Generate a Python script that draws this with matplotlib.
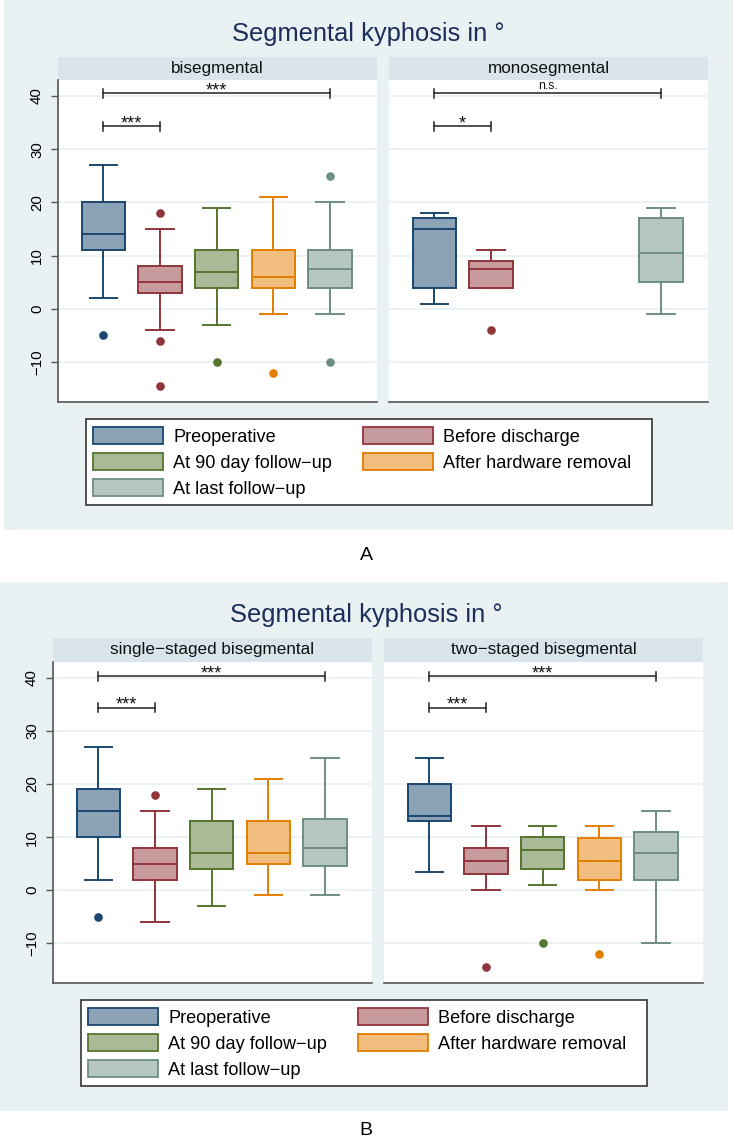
import matplotlib
matplotlib.use("Agg")
import matplotlib.pyplot as plt
from matplotlib.patches import Rectangle, Patch

plt.rcParams["font.family"] = ["Liberation Sans", "DejaVu Sans"]

W, H = 733, 1142

groups = ["Preoperative", "Before discharge", "At 90 day follow\u2212up",
          "After hardware removal", "At last follow\u2212up"]
edges = ["#1a476f", "#90353b", "#55752f", "#e37e00", "#6e8e84"]
fills = ["#8ca3b7", "#c79a9d", "#aaba97", "#f1be7f", "#b6c6c1"]

# A: bisegmental
bi_med = [14, 5, 7, 6, 7.5]
bi_q1 = [11, 3, 4, 4, 4]
bi_q3 = [20, 8, 11, 11, 11]
bi_lo = [2, -4, -3, -1, -1]
bi_hi = [27, 15, 19, 21, 20]
bi_out = [[-5], [18, -6, -14.5], [-10], [-12], [25, -10]]

# A: monosegmental (no 90 day / hardware removal data)
mono_med = [15, 7.5, None, None, 10.5]
mono_q1 = [4, 4, None, None, 5]
mono_q3 = [17, 9, None, None, 17]
mono_lo = [1, 4, None, None, -1]
mono_hi = [18, 11, None, None, 19]
mono_out = [[], [-4], [], [], []]

# B: single-staged bisegmental
ss_med = [15, 5, 7, 7, 8]
ss_q1 = [10, 2, 4, 5, 4.5]
ss_q3 = [19, 8, 13, 13, 13.5]
ss_lo = [2, -6, -3, -1, -1]
ss_hi = [27, 15, 19, 21, 25]
ss_out = [[-5], [18], [], [], []]

# B: two-staged bisegmental
ts_med = [14, 5.5, 7.5, 5.5, 7]
ts_q1 = [13, 3, 4, 2, 2]
ts_q3 = [20, 8, 10, 9.8, 11]
ts_lo = [3.5, 0, 1, 0, -10]
ts_hi = [25, 12, 12, 12, 15]
ts_out = [[], [-14.5], [-10], [-12], []]

yticks = [-10, 0, 10, 20, 30, 40]
sig_long = [40.5, 40.5, 40.3, 40.3]
sig_short = [34.3, 34.3, 34.4, 34.4]

BG = "#e9f1f3"
STRIP = "#d9e5eb"
TITLE = "#1c2d5a"


def rect(x0, y0, x1, y1):
    return [x0 / W, 1 - y1 / H, (x1 - x0) / W, (y1 - y0) / H]


def draw_box(ax, med, q1, q3, lo, hi, out, first):
    stats, pos, idx = [], [], []
    for i in range(5):
        if med[i] is None:
            continue
        stats.append(dict(med=med[i], q1=q1[i], q3=q3[i],
                          whislo=lo[i], whishi=hi[i], fliers=out[i]))
        pos.append(i + 1)
        idx.append(i)
    art = ax.bxp(stats, positions=pos, widths=0.76, capwidths=0.48,
                 patch_artist=True, manage_ticks=False)
    for k, i in enumerate(idx):
        art["boxes"][k].set(facecolor=fills[i], edgecolor=edges[i], linewidth=1.4)
        art["medians"][k].set(color=edges[i], linewidth=1.4)
        for ln in art["whiskers"][2 * k:2 * k + 2] + art["caps"][2 * k:2 * k + 2]:
            ln.set(color=edges[i], linewidth=1.4)
        art["fliers"][k].set(marker="o", markerfacecolor=edges[i],
                             markeredgecolor=edges[i], markersize=5.2)

    ax.set_xlim(0.2, 5.83)
    ax.set_ylim(-17.5, 43)
    ax.set_yticks(yticks)
    ax.set_xticks([])
    ax.set_axisbelow(True)
    ax.yaxis.grid(True, color=BG, linewidth=1.3)
    for s in ["top", "right"]:
        ax.spines[s].set_visible(False)
    ax.spines["bottom"].set(color="#555555", linewidth=1.2)
    if first:
        ax.spines["left"].set(color="#555555", linewidth=1.2)
        ax.tick_params(axis="y", direction="out", length=5, width=1,
                       color="#555555", labelsize=10.8, labelrotation=90, pad=5)
        for t in ax.get_yticklabels():
            t.set_va("center")
    else:
        ax.spines["left"].set_visible(False)
        ax.tick_params(axis="y", left=False, labelleft=False)


def bracket(ax, x0, x1, y, label):
    ax.plot([x0, x1], [y, y], color="#222222", lw=1.1)
    for x in (x0, x1):
        ax.plot([x, x], [y - 0.8, y + 0.8], color="#222222", lw=1.1)
    if "*" in label:
        # asterisks sit high in the em box, so anchor the baseline just under the line
        ax.text((x0 + x1) / 2, y - 0.4, label, ha="center", va="baseline",
                fontsize=13, color="#111111")
    else:
        ax.text((x0 + x1) / 2, y + 0.9, label, ha="center", va="baseline",
                fontsize=8.8, color="#111111")


def strip(x0, x1, y0, y1, label, base):
    sa = fig.add_axes(rect(x0, y0, x1, y1))
    sa.set_facecolor(STRIP)
    sa.set_xticks([])
    sa.set_yticks([])
    for s in sa.spines.values():
        s.set_visible(False)
    fig.text((x0 + x1) / 2 / W, 1 - base / H, label, ha="center",
             va="baseline", fontsize=12.3, color="#111111")


def legend(fx0, fy0, fx1, fy1, ax_x, ax_y):
    fig.patches.append(Rectangle((fx0 / W, 1 - fy1 / H), (fx1 - fx0) / W,
                                 (fy1 - fy0) / H, transform=fig.transFigure,
                                 facecolor="white", edgecolor="#333333",
                                 linewidth=1.2, zorder=1))
    order = [0, 2, 4, 1, 3]
    handles = [Patch(facecolor=fills[i], edgecolor=edges[i], linewidth=1.3)
               for i in order]
    labels = [groups[i] for i in order]
    leg = fig.legend(handles, labels, loc="upper left",
                     bbox_to_anchor=(ax_x / W, 1 - ax_y / H), ncol=2,
                     frameon=False, fontsize=13.1, borderpad=0, borderaxespad=0,
                     handlelength=3.85, handleheight=1.1, handletextpad=0.55,
                     labelspacing=0.39, columnspacing=1.7)
    leg.set_zorder(2)


fig = plt.figure(figsize=(W / 100, H / 100), dpi=100)

# background panels
fig.patches.append(Rectangle((4 / W, 1 - 530 / H), (733 - 4) / W, 530 / H,
                             transform=fig.transFigure, facecolor=BG,
                             edgecolor="none", zorder=-1))
fig.patches.append(Rectangle((0, 1 - 1111 / H), 728 / W, (1111 - 582) / H,
                             transform=fig.transFigure, facecolor=BG,
                             edgecolor="none", zorder=-1))

# ---- panel A ----
fig.text(368 / W, 1 - 40.7 / H, "Segmental kyphosis in \u00b0", ha="center",
         va="baseline", fontsize=18.4, color=TITLE)
strip(58, 377, 57, 80, "bisegmental", 72.5)
strip(389, 708, 57, 80, "monosegmental", 72.5)

axA1 = fig.add_axes(rect(58, 80, 377, 402))
draw_box(axA1, bi_med, bi_q1, bi_q3, bi_lo, bi_hi, bi_out, True)
bracket(axA1, 1, 5, sig_long[0], "***")
bracket(axA1, 1, 2, sig_short[0], "***")

axA2 = fig.add_axes(rect(389, 80, 708, 402))
draw_box(axA2, mono_med, mono_q1, mono_q3, mono_lo, mono_hi, mono_out, False)
bracket(axA2, 1, 5, sig_long[1], "n.s.")
bracket(axA2, 1, 2, sig_short[1], "*")

legend(86, 419, 652, 505, 93, 427)
fig.text(366 / W, 1 - 560 / H, "A", ha="center", va="baseline", fontsize=14)

# ---- panel B ----
fig.text(366 / W, 1 - 621.7 / H, "Segmental kyphosis in \u00b0", ha="center",
         va="baseline", fontsize=18.4, color=TITLE)
strip(53, 372, 638, 662, "single\u2212staged bisegmental", 654)
strip(384, 703, 638, 662, "two\u2212staged bisegmental", 654)

axB1 = fig.add_axes(rect(53, 662, 372, 983))
draw_box(axB1, ss_med, ss_q1, ss_q3, ss_lo, ss_hi, ss_out, True)
bracket(axB1, 1, 5, sig_long[2], "***")
bracket(axB1, 1, 2, sig_short[2], "***")

axB2 = fig.add_axes(rect(384, 662, 703, 983))
draw_box(axB2, ts_med, ts_q1, ts_q3, ts_lo, ts_hi, ts_out, False)
bracket(axB2, 1, 5, sig_long[3], "***")
bracket(axB2, 1, 2, sig_short[3], "***")

legend(81, 1000, 647, 1086, 88, 1008)
fig.text(366 / W, 1 - 1135 / H, "B", ha="center", va="baseline", fontsize=14)

fig.savefig("out.png", dpi=100, facecolor="white")
